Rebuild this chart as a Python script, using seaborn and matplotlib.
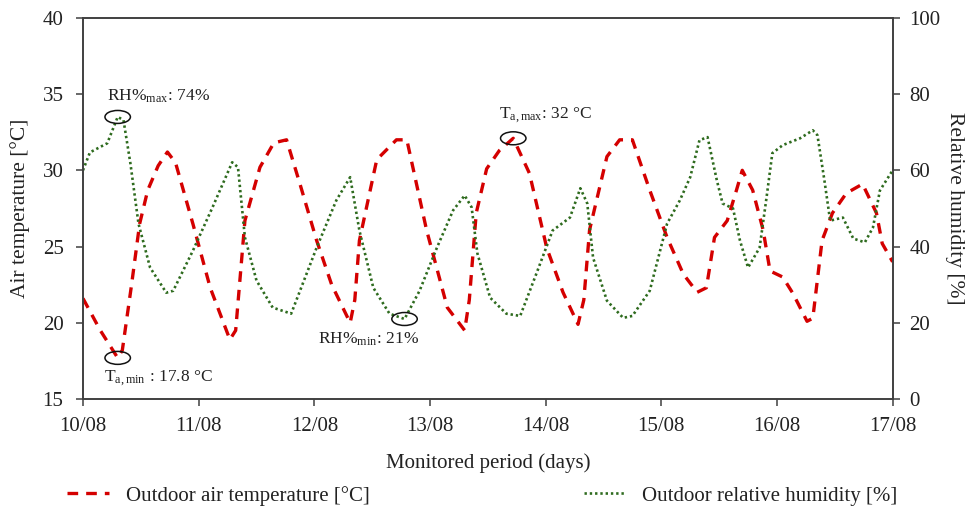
import matplotlib
matplotlib.use("Agg")
import matplotlib.pyplot as plt
from matplotlib.patches import Ellipse
import numpy as np
import pandas as pd
import seaborn as sns

# days since 10/08 00:00, outdoor air temperature [°C]
temp_days = [0.00, 0.15, 0.30, 0.34, 0.42, 0.49, 0.56, 0.65, 0.73, 0.80,
             0.95, 1.10, 1.27, 1.32, 1.40, 1.53, 1.65, 1.76, 1.88, 2.02,
             2.15, 2.31, 2.35, 2.39, 2.54, 2.71, 2.80, 2.97, 3.15, 3.30,
             3.34, 3.40, 3.49, 3.60, 3.72, 3.86, 4.01, 4.15, 4.28, 4.33,
             4.38, 4.53, 4.64, 4.75, 4.90, 5.05, 5.19, 5.31, 5.39, 5.46,
             5.57, 5.65, 5.70, 5.79, 5.88, 5.94, 6.05, 6.14, 6.26, 6.31,
             6.39, 6.48, 6.60, 6.74, 6.86, 6.91, 7.00]
temp_vals = [21.6, 19.5, 17.7, 18.2, 22.5, 26.5, 28.7, 30.3, 31.2, 30.5,
             26.5, 22.3, 18.9, 19.5, 26.7, 30.2, 31.8, 32.0, 29.0, 25.4,
             22.5, 20.0, 21.5, 25.4, 30.7, 32.0, 32.0, 26.1, 21.0, 19.5,
             21.5, 27.2, 30.1, 31.3, 32.1, 29.8, 24.9, 22.0, 19.9, 21.5,
             26.1, 30.9, 32.0, 32.0, 28.7, 25.6, 23.2, 22.0, 22.3, 25.6,
             26.7, 28.7, 30.0, 28.7, 26.1, 23.4, 23.0, 21.9, 20.1, 20.3,
             25.4, 27.2, 28.5, 29.1, 27.2, 25.2, 24.0]

# days since 10/08 00:00, outdoor relative humidity [%]
rh_days = [0.00, 0.06, 0.21, 0.30, 0.35, 0.41, 0.48, 0.58, 0.72, 0.78,
           0.95, 1.12, 1.29, 1.34, 1.40, 1.50, 1.64, 1.80, 2.02, 2.19,
           2.31, 2.39, 2.51, 2.65, 2.78, 2.91, 3.06, 3.20, 3.30, 3.36,
           3.41, 3.52, 3.66, 3.78, 3.92, 4.06, 4.21, 4.30, 4.36, 4.41,
           4.53, 4.67, 4.75, 4.90, 5.05, 5.16, 5.25, 5.33, 5.40, 5.48,
           5.53, 5.62, 5.68, 5.75, 5.85, 5.91, 5.96, 6.05, 6.20, 6.31,
           6.35, 6.41, 6.46, 6.57, 6.66, 6.76, 6.83, 6.89, 7.00]
rh_vals = [60.0, 64.7, 67.1, 74.0, 73.2, 61.8, 46.0, 34.5, 27.9, 28.4,
           38.9, 50.3, 62.1, 60.8, 42.4, 31.1, 24.0, 22.4, 39.7, 52.1,
           58.2, 44.2, 29.2, 22.4, 21.0, 28.4, 39.7, 49.5, 53.4, 50.3,
           38.2, 26.6, 22.4, 21.8, 32.9, 44.2, 47.6, 55.3, 51.3, 37.1,
           25.8, 21.3, 21.8, 28.4, 46.0, 52.1, 58.2, 67.9, 68.7, 57.4,
           51.3, 50.0, 41.6, 34.5, 39.7, 52.9, 64.5, 66.6, 68.4, 70.5,
           69.2, 57.4, 46.8, 47.6, 42.1, 41.1, 45.0, 54.7, 60.0]

day_labels = ["10/08", "11/08", "12/08", "13/08", "14/08", "15/08", "16/08", "17/08"]

temp_df = pd.DataFrame({"day": temp_days, "temp": temp_vals})
rh_df = pd.DataFrame({"day": rh_days, "rh": rh_vals})

sns.set_style("ticks")
plt.rcParams["font.family"] = ["Liberation Serif", "DejaVu Serif"]
plt.rcParams["mathtext.fontset"] = "stix"
TXT = "#222222"
AX = "#404040"

fig = plt.figure(figsize=(9.65, 5.09), dpi=100)
ax = fig.add_axes([0.086, 0.216, 0.839, 0.749])
ax2 = ax.twinx()

sns.lineplot(x="day", y="temp", data=temp_df, ax=ax, color="#d40000",
             linewidth=2.4, label="Outdoor air temperature [°C]", legend=False)
ax.lines[0].set_dashes((3.2, 2.4))
sns.lineplot(x="day", y="rh", data=rh_df, ax=ax2, color="#2e6b1e",
             linewidth=1.9, label="Outdoor relative humidity [%]", legend=False)
ax2.lines[0].set_linestyle((0, (0.9, 1.1)))

ax.set_xlim(0, 7)
ax.set_ylim(15, 40)
ax2.set_ylim(0, 100)
ax.set_xticks(range(len(day_labels)))
ax.set_xticklabels(day_labels)
ax.set_yticks([15, 20, 25, 30, 35, 40])
ax2.set_yticks([0, 20, 40, 60, 80, 100])

for a in (ax, ax2):
    for s in a.spines.values():
        s.set_visible(True)
        s.set_color(AX)
        s.set_linewidth(1.2)
    a.tick_params(labelsize=15, colors=AX, labelcolor=TXT, length=5, width=1.1)
ax.tick_params(axis="x", pad=8)
ax.tick_params(axis="y", pad=9)
ax2.tick_params(axis="y", pad=7)

ax.set_xlabel("Monitored period (days)", fontsize=15, color=TXT, labelpad=12)
ax.set_ylabel("Air temperature [°C]", fontsize=15.5, color=TXT, labelpad=9)
ax2.set_ylabel("Relative humidity [%]", fontsize=15.5, color=TXT, rotation=270,
               labelpad=3, va="bottom")

# annotations: circle the extremes
i_tmin = int(np.argmin(temp_vals))
i_tmax = int(np.argmax(temp_vals))
i_rhmin = int(np.argmin(rh_vals))
i_rhmax = int(np.argmax(rh_vals))

ell_kw = dict(fill=False, edgecolor="#111111", linewidth=1.1, zorder=5)
ax.add_patch(Ellipse((temp_days[i_tmin], temp_vals[i_tmin]), 0.22, 0.85, **ell_kw))
ax.add_patch(Ellipse((temp_days[i_tmax], temp_vals[i_tmax]), 0.22, 0.85, **ell_kw))
ax2.add_patch(Ellipse((rh_days[i_rhmin], rh_vals[i_rhmin]), 0.22, 3.4, **ell_kw))
ax2.add_patch(Ellipse((rh_days[i_rhmax], rh_vals[i_rhmax]), 0.22, 3.4, **ell_kw))

txt_kw = dict(fontsize=12.5, color=TXT, va="center", ha="left")
ax.text(0.21, 34.85, "RH%$_{\\mathregular{max}}$: 74%", **txt_kw)
ax.text(0.18, 16.35, "T$_{\\mathregular{a,min}}$ : 17.8 °C", **txt_kw)
ax.text(2.03, 18.9, "RH%$_{\\mathregular{min}}$: 21%", **txt_kw)
ax.text(3.60, 33.65, "T$_{\\mathregular{a,max}}$: 32 °C", **txt_kw)

handles = ax.lines[:1] + ax2.lines[:1]
labels = [h.get_label() for h in handles]
fig.legend(handles, labels, loc="lower center", bbox_to_anchor=(0.5, -0.03),
           ncol=2, frameon=False, fontsize=15, handlelength=2.0,
           columnspacing=10.3, labelcolor=TXT)

fig.savefig("out.png", dpi=100)
